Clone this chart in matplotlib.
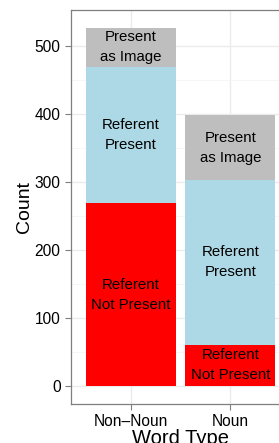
import matplotlib
matplotlib.use("Agg")
import matplotlib.pyplot as plt
import numpy as np

plt.rcParams['font.family'] = ['Liberation Sans', 'DejaVu Sans']

# Data
word_types = ['Non\u2013Noun', 'Noun']
not_present = [269, 61]
referent_present = [201, 242]
present_as_image = [57, 96]

segment_labels = ['Referent\nNot Present', 'Referent\nPresent', 'Present\nas Image']
segment_colors = ['#FF0000', '#ADD8E6', '#BEBEBE']

fig = plt.figure(figsize=(2.79, 4.43), dpi=100)
ax = fig.add_axes([0.2545, 0.088, 0.785, 0.889])

x = np.arange(1, len(word_types) + 1)
bottom = np.zeros(len(word_types))
for values, label, color in zip([not_present, referent_present, present_as_image],
                                segment_labels, segment_colors):
    values = np.array(values, dtype=float)
    ax.bar(x, values, width=0.9, bottom=bottom, color=color, zorder=2)
    for xi, b, v in zip(x, bottom, values):
        ax.text(xi, b + v / 2, label, ha='center', va='center',
                fontsize=10.8, linespacing=1.55, zorder=3)
    bottom += values

total = bottom.max()
ax.set_xlim(0.4, 2.6)
ax.set_ylim(-0.05 * total, total * 1.05)

ax.set_xticks(x)
ax.set_xticklabels(word_types)
ax.set_yticks([0, 100, 200, 300, 400, 500])
ax.set_yticks([50, 150, 250, 350, 450], minor=True)

# ggplot theme_bw look
ax.grid(which='major', color='#EBEBEB', linewidth=1.0, zorder=0)
ax.grid(which='minor', axis='y', color='#F5F5F5', linewidth=0.6, zorder=0)
ax.set_axisbelow(True)
for spine in ax.spines.values():
    spine.set_color('#7F7F7F')
    spine.set_linewidth(0.9)
ax.tick_params(axis='both', which='major', color='#7F7F7F', length=4,
               labelsize=11.2, labelcolor='black')
ax.tick_params(axis='y', which='minor', length=0)

ax.set_xlabel('Word Type', fontsize=14.5, labelpad=0)
ax.set_ylabel('Count', fontsize=14, labelpad=1)

fig.savefig('out.png', dpi=100)
